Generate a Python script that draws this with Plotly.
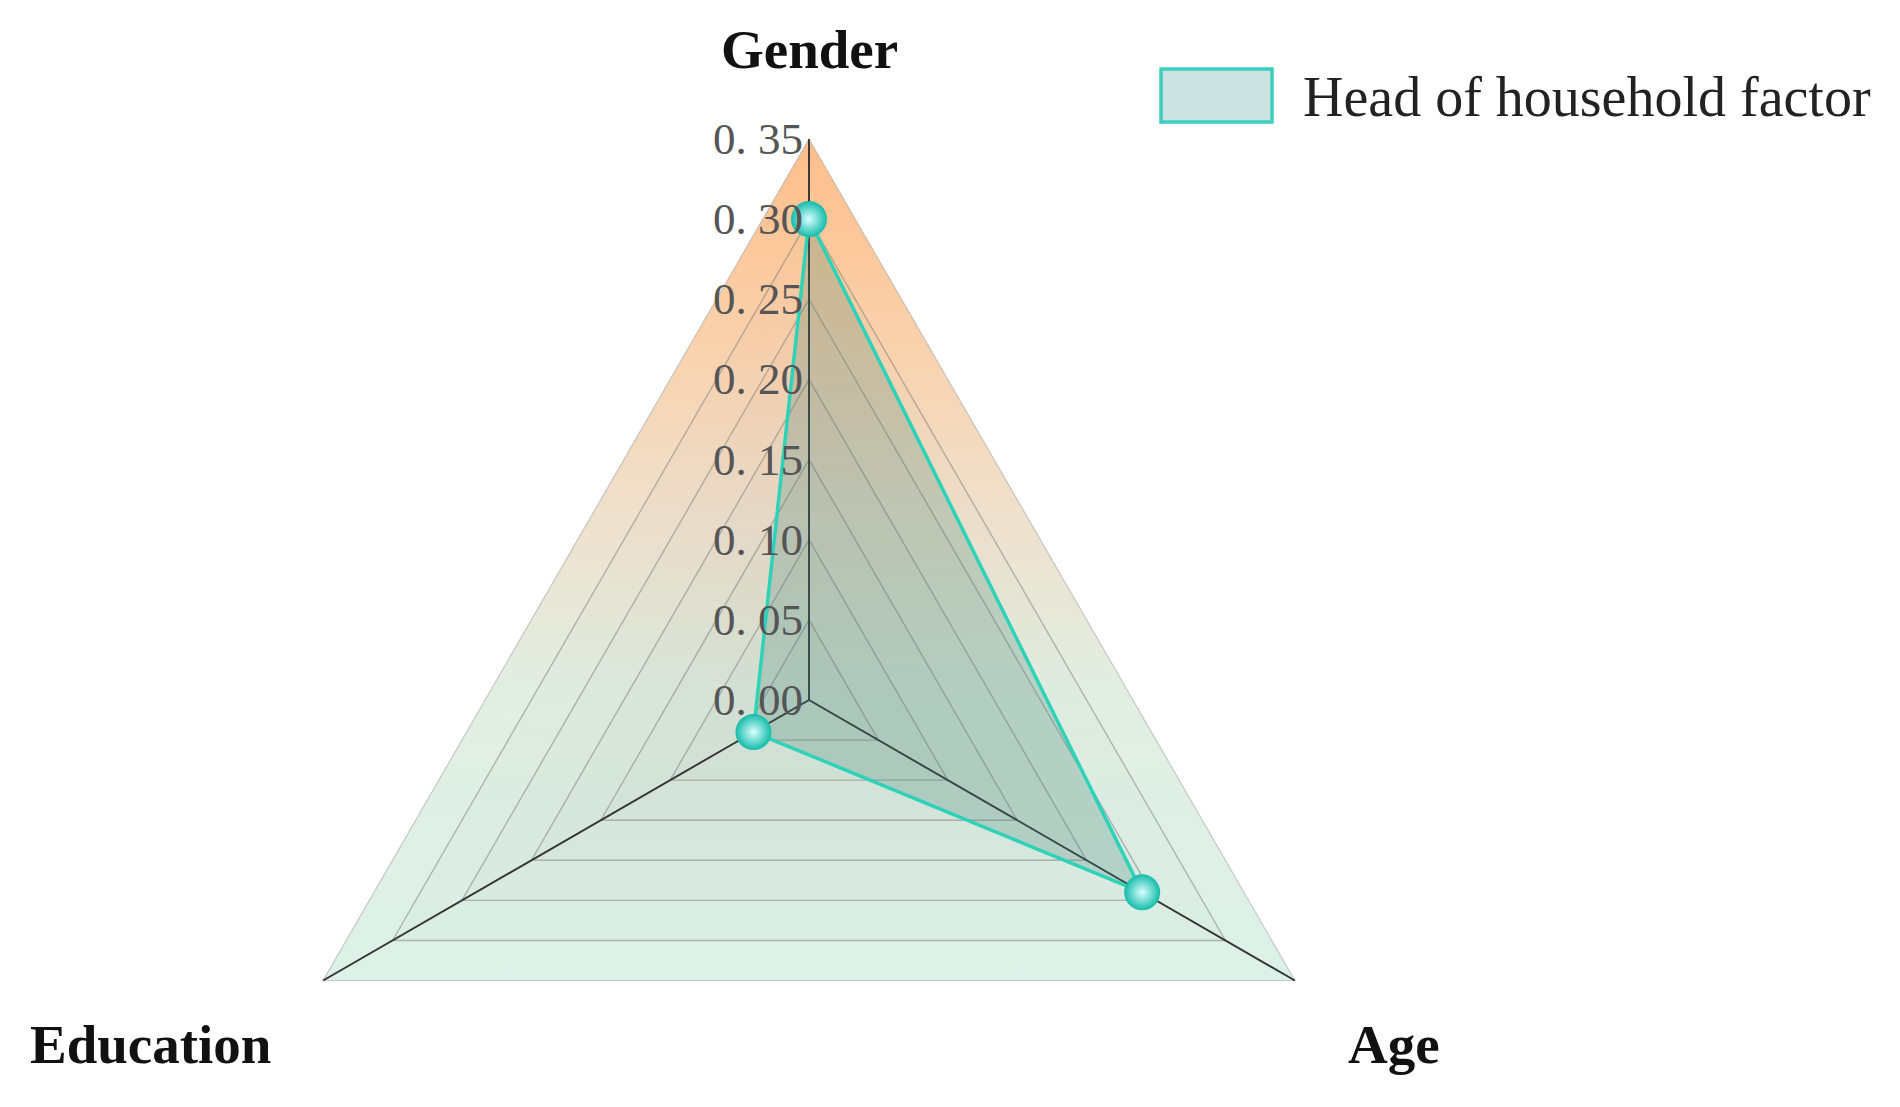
import numpy as np
import plotly.graph_objects as go

# ---------------- data ----------------
categories = ["Gender", "Age", "Education"]
series_name = "Head of household factor"
series_values = [0.30, 0.24, 0.04]
tick_values = [0.00, 0.05, 0.10, 0.15, 0.20, 0.25, 0.30, 0.35]
tick_labels = ["0. 00", "0. 05", "0. 10", "0. 15", "0. 20", "0. 25", "0. 30", "0. 35"]

# ---------------- geometry helpers (radar projection) ----------------
R_MAX = tick_values[-1]
n = len(categories)
angles = np.deg2rad(90 - 360.0 / n * np.arange(n))  # clockwise from top


def polygon(radii):
    r = np.asarray(radii, dtype=float)
    x = r * np.cos(angles)
    y = r * np.sin(angles)
    return np.append(x, x[0]), np.append(y, y[0])


W, H = 1900, 1107
OFF = 8.0            # page offset of the plot div
S = 1603.0           # pixels per data unit
CX, CY = 809.0 - OFF, 700.0 - OFF  # pixel position of radar centre inside figure

fig = go.Figure()

# gradient background (outermost ring)
bx, by = polygon([R_MAX] * n)
fig.add_trace(go.Scatter(
    x=bx, y=by, mode="lines", fill="toself",
    fillgradient=dict(type="vertical",
                      colorscale=[[0.0, "#DCF1E9"], [0.35, "#E2EEE2"],
                                  [0.55, "#EEE1CD"], [0.75, "#F9D2AE"],
                                  [1.0, "#FFBE8A"]]),
    line=dict(color="rgba(170,170,170,0.6)", width=1.2),
    hoverinfo="skip", showlegend=False))

# inner rings (subtle stacked shading + grid lines)
for tv in tick_values[1:-1]:
    rx, ry = polygon([tv] * n)
    fig.add_trace(go.Scatter(
        x=rx, y=ry, mode="lines", fill="toself",
        fillcolor="rgba(120,110,100,0.02)",
        line=dict(color="rgba(110,110,110,0.45)", width=1.4),
        hoverinfo="skip", showlegend=False))

# spokes
for a in angles:
    fig.add_trace(go.Scatter(
        x=[0, R_MAX * np.cos(a)], y=[0, R_MAX * np.sin(a)], mode="lines",
        line=dict(color="#333333", width=1.9),
        hoverinfo="skip", showlegend=False))

# radial tick labels along the top spoke
for tv, tl in zip(tick_values, tick_labels):
    fig.add_annotation(x=0, y=tv, xref="x", yref="y", text=tl, showarrow=False,
                       xanchor="right", yanchor="middle", xshift=-4,
                       font=dict(family="Liberation Serif", size=45, color="#555555"))

# data polygon
dx, dy = polygon(series_values)
fig.add_trace(go.Scatter(
    x=dx, y=dy, mode="lines", fill="toself",
    fillcolor="rgba(60,130,115,0.24)",
    line=dict(color="#2ED3B7", width=3.5),
    name=series_name, showlegend=False))
fig.add_trace(go.Scatter(
    x=dx[:-1], y=dy[:-1], mode="markers",
    marker=dict(size=36, color="#14BBA9",
                gradient=dict(type="radial", color="#D8FFFF"),
                line=dict(width=0)),
    hoverinfo="skip", showlegend=False))

# category labels
label_pos = {
    "Gender": (0.0, 0.4056),
    "Age": (0.365, -0.215),
    "Education": (-0.411, -0.215),
}
for c in categories:
    lx, ly = label_pos[c]
    fig.add_annotation(x=lx, y=ly, xref="x", yref="y", text="<b>%s</b>" % c,
                       showarrow=False, xanchor="center", yanchor="middle",
                       font=dict(family="Liberation Serif", size=55, color="#111111"))

# legend (drawn manually to match the large swatch)
fig.add_shape(type="rect", xref="paper", yref="paper",
              x0=(1161 - OFF) / W, x1=(1272 - OFF) / W,
              y0=1 - (122 - OFF) / H, y1=1 - (69 - OFF) / H,
              fillcolor="#CCE2E1", line=dict(color="#3CCFC0", width=3.5))
fig.add_annotation(x=(1301 - OFF) / W, y=1 - (97 - OFF) / H, xref="paper", yref="paper",
                   text=series_name, showarrow=False, xanchor="left", yanchor="middle",
                   font=dict(family="Liberation Serif", size=56, color="#222222"))

fig.update_xaxes(range=[-CX / S, (W - CX) / S], visible=False, fixedrange=True)
fig.update_yaxes(range=[-(H - CY) / S, CY / S], visible=False, fixedrange=True)
fig.update_layout(
    width=W, height=H,
    margin=dict(l=0, r=0, t=0, b=0),
    paper_bgcolor="white", plot_bgcolor="white",
    showlegend=False,
)

fig.write_html("out.html")
